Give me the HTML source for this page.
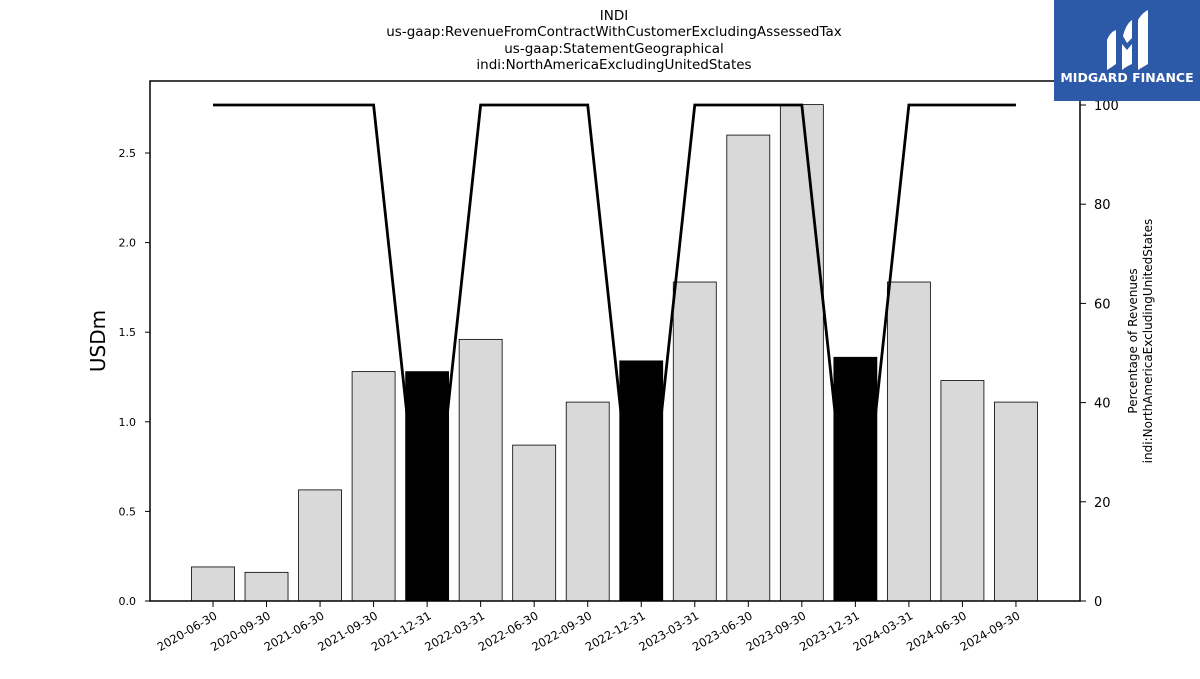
<!DOCTYPE html>
<html><head><meta charset="utf-8">
<style>
body{margin:0;background:#fff;width:1200px;height:675px;overflow:hidden;font-family:"DejaVu Sans","Liberation Sans",sans-serif;}
</style></head>
<body>
<svg id="chart" width="1200" height="675" xmlns="http://www.w3.org/2000/svg" font-family="DejaVu Sans, Liberation Sans, sans-serif">
<g font-size="13.5" text-anchor="middle" fill="#000">
<text x="614" y="20">INDI</text>
<text x="614" y="36">us-gaap:RevenueFromContractWithCustomerExcludingAssessedTax</text>
<text x="614" y="53">us-gaap:StatementGeographical</text>
<text x="614" y="69">indi:NorthAmericaExcludingUnitedStates</text>
</g>
<g id="bars"></g>
<g id="line"></g>
<rect x="150" y="81" width="930" height="520" fill="none" stroke="#000" stroke-width="1.5"/>
<g id="axes"></g>
<text transform="translate(105,341) rotate(-90)" text-anchor="middle" font-size="20">USDm</text>
<text transform="translate(1141,341) rotate(-90)" text-anchor="middle" font-size="12"><tspan x="0" dy="-4">Percentage of Revenues</tspan><tspan x="0" dy="15">indi:NorthAmericaExcludingUnitedStates</tspan></text>
<g>
<rect x="1054" y="0" width="146" height="101" fill="#2d5aa8"/>
<path d="M1107 70 L1107 40 Q1110 32 1116 30 L1116 64 Q1112 67 1107 70Z" fill="#fff"/>
<path d="M1122 70 L1122 44 L1127 50 L1132 44 L1132 64 Q1127 66 1122 70Z" fill="#fff"/>
<path d="M1123 36 Q1126 24 1132 20 L1132 38 L1127 43Z" fill="#fff"/>
<path d="M1138 70 L1138 20 Q1142 13 1148 10 L1148 64 Q1143 67 1138 70Z" fill="#fff"/>
<text x="1127" y="82" text-anchor="middle" font-size="12.5" font-weight="bold" fill="#fff">MIDGARD FINANCE</text>
</g>
</svg>
<script>
const categories=["2020-06-30","2020-09-30","2021-06-30","2021-09-30","2021-12-31","2022-03-31","2022-06-30","2022-09-30","2022-12-31","2023-03-31","2023-06-30","2023-09-30","2023-12-31","2024-03-31","2024-06-30","2024-09-30"];
const revenue=[0.19,0.16,0.62,1.28,1.28,1.46,0.87,1.11,1.34,1.78,2.60,2.77,1.36,1.78,1.23,1.11];
const percent=[100,100,100,100,0,100,100,100,0,100,100,100,0,100,100,100];
const highlight=[0,0,0,0,1,0,0,0,1,0,0,0,1,0,0,0];
const leftTicks=[0,0.5,1.0,1.5,2.0,2.5];
const rightTicks=[0,20,40,60,80,100];
const NS="http://www.w3.org/2000/svg";
const x0=213,step=53.53,bw=43;
const xs=i=>x0+i*step;
const yL=v=>601-v*179.2;
const yR=v=>601-v*4.96;
function mk(t,a,p){const e=document.createElementNS(NS,t);for(const k in a)e.setAttribute(k,a[k]);p.appendChild(e);return e;}
const bars=document.getElementById('bars');
revenue.forEach((v,i)=>{
 const r=mk('rect',{x:xs(i)-bw/2,y:yL(v),width:bw,height:601-yL(v),fill:highlight[i]?'#000':'#d9d9d9',stroke:'#000','stroke-width':0.8},bars);
 
 
});
const line=document.getElementById('line');
const pl=mk('polyline',{points:percent.map((v,i)=>xs(i)+','+yR(v)).join(' '),fill:'none',stroke:'#000','stroke-width':2.8},line);


const axes=document.getElementById('axes');
leftTicks.forEach(t=>{
 mk('line',{x1:145,x2:150,y1:yL(t),y2:yL(t),stroke:'#000'},axes);
 const tx=mk('text',{x:136,y:yL(t)+4,'text-anchor':'end','font-size':11},axes);tx.textContent=t.toFixed(1);
 
 
});
rightTicks.forEach(t=>{
 mk('line',{x1:1080,x2:1086,y1:yR(t),y2:yR(t),stroke:'#000'},axes);
 const tx=mk('text',{x:1094,y:yR(t)+5,'font-size':13},axes);tx.textContent=t;
 
 
});
categories.forEach((c,i)=>{
 mk('line',{x1:xs(i),x2:xs(i),y1:601,y2:607,stroke:'#000'},axes);
 const tx=mk('text',{transform:`translate(${xs(i)+5},618) rotate(-30)`,'text-anchor':'end','font-size':11.5},axes);tx.textContent=c;
 
 
});
</script>
</body></html>
